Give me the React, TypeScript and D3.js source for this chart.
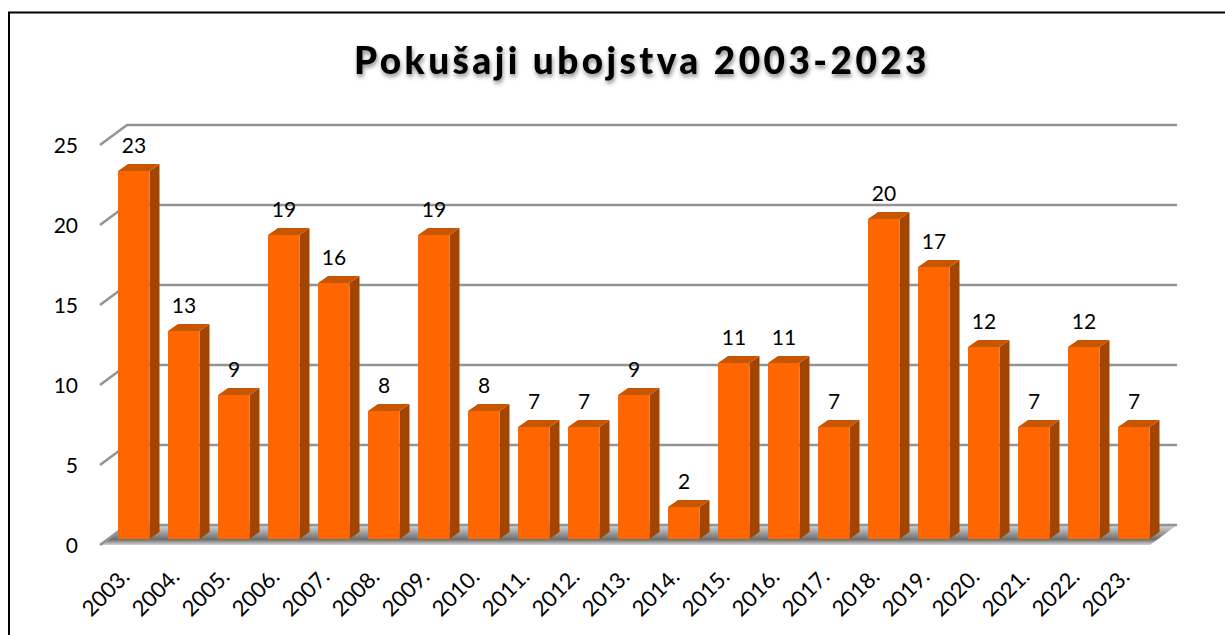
import React from 'react';
import * as d3 from 'd3';

const years = ['2003.', '2004.', '2005.', '2006.', '2007.', '2008.', '2009.', '2010.', '2011.', '2012.', '2013.', '2014.', '2015.', '2016.', '2017.', '2018.', '2019.', '2020.', '2021.', '2022.', '2023.'];
const attempts = [23, 13, 9, 19, 16, 8, 19, 8, 7, 7, 9, 2, 11, 11, 7, 20, 17, 12, 7, 12, 7];
const yTicks = [0, 5, 10, 15, 20, 25];

const FONT = 'Lato, Carlito, sans-serif';

// front plane of the fake 3d box
const depthX = 27;
const depthY = 20;
const barDepthX = 10;
const barDepthY = 7;

export default function App() {
  // 21 bands of 50px, bars start 9px into the first band
  const x = d3.scaleBand<string>().domain(years).range([109, 1159]).paddingInner(0.36).paddingOuter(0.18);
  const y = d3.scaleLinear().domain([0, 25]).range([539, 139]);
  const floorY = y(0) + 6;
  const bw = 31.5;

  return (
    <svg width={1225} height={635} style={{ position: 'absolute', left: 0, top: 0, background: '#fff' }}>
      <defs>
        <linearGradient id="floor" x1="0" y1="0" x2="0" y2="1">
          <stop offset="0" stopColor="#d8d8d8" />
          <stop offset="0.4" stopColor="#9c9c9c" />
          <stop offset="0.72" stopColor="#6e6e6e" />
          <stop offset="1" stopColor="#d4d4d4" />
        </linearGradient>
        <filter id="titleShadow" x="-5%" y="-30%" width="110%" height="170%">
          <feDropShadow dx="1" dy="3" stdDeviation="2" floodColor="#000" floodOpacity="0.45" />
        </filter>
      </defs>

      {/* frame */}
      <path d="M9,635 V12.5 H1225" fill="none" stroke="#000" strokeWidth={2} />

      {/* title */}
      <text x={642} y={74} textAnchor="middle" fontFamily={FONT} fontWeight={900} fontSize={37} letterSpacing={3.4} fill="#000" filter="url(#titleShadow)">
        Pokušaji ubojstva 2003-2023
      </text>

      {/* floor */}
      <path
        d={`M100,${floorY} L${100 + depthX},${floorY - depthY} H${1150 + depthX} L1150,${floorY} Z`}
        fill="url(#floor)"
      />

      {/* gridlines with the side wall stub */}
      {yTicks.map((t) => {
        const fy = y(t) + 6;
        return (
          <g key={t}>
            <path
              d={`M100,${fy} L${100 + depthX},${fy - depthY} H${1150 + depthX}`}
              fill="none"
              stroke="#939393"
              strokeWidth={2.5}
            />
            <text x={78} y={fy + 8} textAnchor="end" fontFamily={FONT} fontSize={21} fill="#000">
              {t}
            </text>
          </g>
        );
      })}

      {/* bars */}
      {years.map((yr, i) => {
        const bx = x(yr) as number;
        const top = y(attempts[i]);
        const base = y(0);
        return (
          <g key={yr}>
            <path
              d={`M${bx + bw},${top} L${bx + bw + barDepthX},${top - barDepthY} V${base - barDepthY} L${bx + bw},${base} Z`}
              fill="#a34400"
            />
            <path
              d={`M${bx},${top} L${bx + barDepthX},${top - barDepthY} H${bx + bw + barDepthX} L${bx + bw},${top} Z`}
              fill="#c85500"
            />
            <rect x={bx} y={top} width={bw} height={base - top} fill="#ff6600" />
            <text x={bx + 16} y={top - 18} textAnchor="middle" fontFamily={FONT} fontSize={21} fill="#000">
              {attempts[i]}
            </text>
            <text
              transform={`translate(${bx + 13},${578}) rotate(-45)`}
              textAnchor="end"
              fontFamily={FONT}
              fontSize={22}
              fill="#000"
            >
              {yr}
            </text>
          </g>
        );
      })}
    </svg>
  );
}
